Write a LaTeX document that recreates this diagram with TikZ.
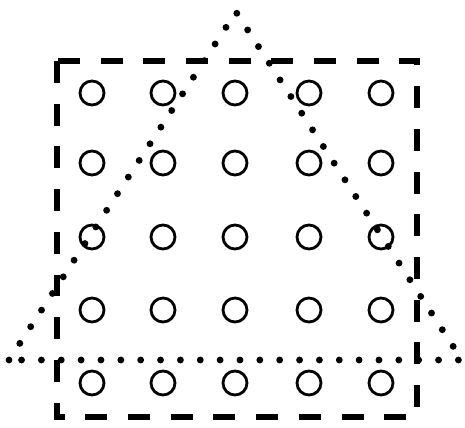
\documentclass[tikz,border=0pt]{standalone}
\usepackage{tikz}

\begin{document}
\begin{tikzpicture}[x=0.2mm,y=-0.2mm]

\tikzset{
dot/.style={
    draw=black,
    circle,
    line width=1.6pt,
    minimum size=4.8mm,
    inner sep=0pt
},
frame/.style={
    draw=black,
    line width=3.2pt,
    dash pattern=on 12.5pt off 11.8pt
},
tri/.style={
    draw=black,
    line width=3.9pt,
    line cap=round,
    dash pattern=on 0pt off 11.3pt
}
}

\useasboundingbox (0,0) rectangle (465,428);

% grid of small circles
\foreach \i/\x in {1/92,2/163,3/235,4/309,5/381}{
  \foreach \j/\y in {1/93,2/163,3/237,4/310,5/383}{
    \node[dot] (c\i\j) at (\x,\y) {};
  }
}

% dashed square
\coordinate (sqa) at (57,61);
\coordinate (sqb) at (417,417);
\draw[frame] (sqa) rectangle (sqb);

% dotted triangle
\coordinate (top) at (236,12);
\coordinate (left) at (9,360);
\coordinate (right) at (462,360);
\draw[tri] (left) -- (top) -- (right) -- cycle;

\end{tikzpicture}
\end{document}
